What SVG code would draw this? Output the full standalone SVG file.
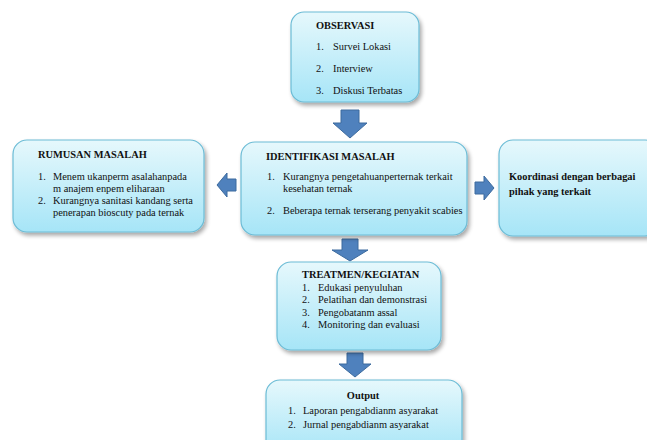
<svg xmlns="http://www.w3.org/2000/svg" width="647" height="440" viewBox="0 0 647 440" font-family="'Liberation Serif', 'Times New Roman', serif">
<defs>
<linearGradient id="g" x1="0" y1="0" x2="0" y2="1">
<stop offset="0" stop-color="#e6f8fc"/>
<stop offset="1" stop-color="#a6e5f7"/>
</linearGradient>
<filter id="sh" x="-10%" y="-10%" width="125%" height="130%">
<feGaussianBlur in="SourceAlpha" stdDeviation="2"/>
<feOffset dx="2" dy="3" result="b"/>
<feComponentTransfer><feFuncA type="linear" slope="0.35"/></feComponentTransfer>
<feMerge><feMergeNode/><feMergeNode in="SourceGraphic"/></feMerge>
</filter>
<style>
.box{fill:url(#g);stroke:#6cbcd6;stroke-width:1.2;filter:url(#sh)}
.arr{fill:#4f81bd;stroke:#3d6b9e;stroke-width:1}
text{font-family:'Liberation Serif','Times New Roman',serif;font-size:10.4px;fill:#111}
.t{font-weight:bold}
</style>
</defs>
<rect width="647" height="440" fill="#fff"/>
<g id="connectors">
<path class="arr" d="M341,110 H359 V123 H367 L350,138 L333,123 H341 Z"/>
<path class="arr" d="M236,179 V191 H227 V197 L217,185 L227,173 V179 Z"/>
<path class="arr" d="M475,182 H484 V176 L494,188 L484,200 V194 H475 Z"/>
<path class="arr" d="M342,239 H358 V250 H368 L350,261 L332,250 H342 Z"/>
<path class="arr" d="M347,353 H363 V364 H371 L355,377 L339,364 H347 Z"/>
</g>
<g id="observasi">
<rect class="box" x="291" y="12" width="128" height="90" rx="13"/>
<text class="t" x="316" y="29">OBSERVASI</text>
<text x="316" y="50">1.</text><text x="333" y="50">Survei Lokasi</text>
<text x="316" y="72">2.</text><text x="333" y="72">Interview</text>
<text x="316" y="94">3.</text><text x="333" y="94">Diskusi Terbatas</text>
</g>
<g id="rumusan">
<rect class="box" x="13" y="140" width="191" height="92" rx="14"/>
<text class="t" x="38" y="158">RUMUSAN MASALAH</text>
<text x="38" y="180">1.</text><text x="53" y="180">Menem ukanperm asalahanpada</text>
<text x="53" y="192">m anajem enpem eliharaan</text>
<text x="38" y="204">2.</text><text x="53" y="204">Kurangnya sanitasi kandang serta</text>
<text x="53" y="216">penerapan bioscuty pada ternak</text>
</g>
<g id="identifikasi">
<rect class="box" x="241" y="142" width="226" height="93" rx="14"/>
<text class="t" x="266" y="160">IDENTIFIKASI MASALAH</text>
<text x="267" y="180">1.</text><text x="283" y="180">Kurangnya pengetahuanperternak terkait</text>
<text x="283" y="192">kesehatan ternak</text>
<text x="267" y="214">2.</text><text x="283" y="214">Beberapa ternak terserang penyakit scabies</text>
</g>
<g id="koordinasi">
<rect class="box" x="499" y="140" width="160" height="96" rx="14"/>
<text class="t" x="509" y="180">Koordinasi dengan berbagai</text>
<text class="t" x="509" y="195">pihak yang terkait</text>
</g>
<g id="treatmen">
<rect class="box" x="277" y="262" width="164" height="88" rx="14"/>
<text class="t" x="302" y="278">TREATMEN/KEGIATAN</text>
<text x="302" y="291">1.</text><text x="318" y="291">Edukasi penyuluhan</text>
<text x="302" y="303">2.</text><text x="318" y="303">Pelatihan dan demonstrasi</text>
<text x="302" y="316">3.</text><text x="318" y="316">Pengobatanm assal</text>
<text x="302" y="328">4.</text><text x="318" y="328">Monitoring dan evaluasi</text>
</g>
<g id="output">
<rect class="box" x="266" y="380" width="196" height="75" rx="14"/>
<text class="t" x="363" y="399" text-anchor="middle">Output</text>
<text x="288" y="414">1.</text><text x="303" y="414">Laporan pengabdianm asyarakat</text>
<text x="288" y="428">2.</text><text x="303" y="428">Jurnal pengabdianm asyarakat</text>
</g>
</svg>
